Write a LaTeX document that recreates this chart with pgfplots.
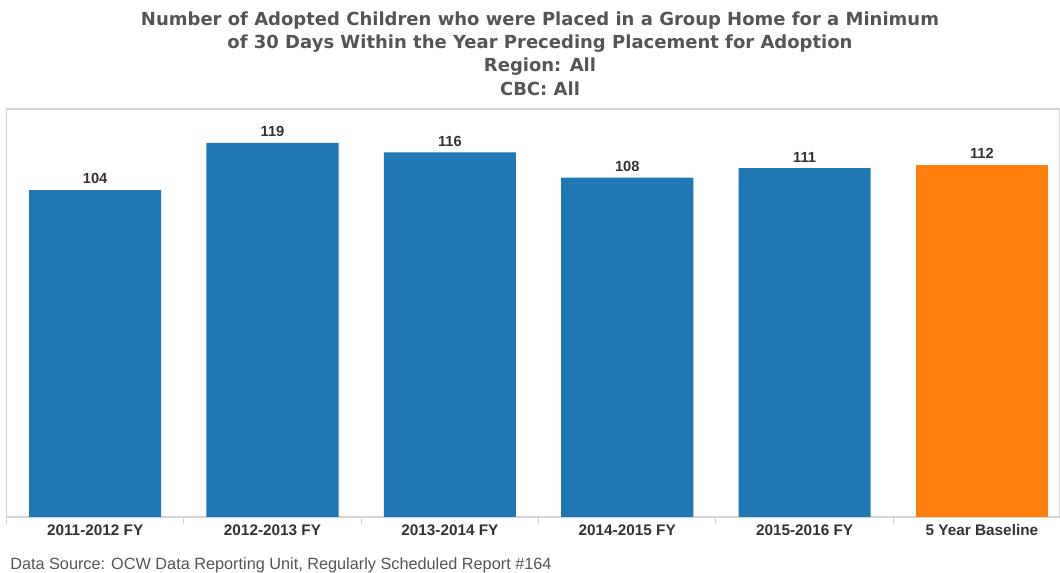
\documentclass[border=0pt]{standalone}
\usepackage{fontspec}
\setmainfont{Liberation Sans}
\newfontfamily\titlefont{DejaVu Sans}
\usepackage{pgfplots}
\pgfplotsset{compat=1.18}
\definecolor{barblue}{HTML}{1F77B4}
\definecolor{barorange}{HTML}{FF7F0E}
\definecolor{framegray}{HTML}{D4D4D4}
\definecolor{titlegray}{HTML}{555555}
\definecolor{labelgray}{HTML}{333333}
\begin{document}
\begin{tikzpicture}[x=0.75pt,y=0.75pt]
\path[use as bounding box] (-6.5,-56) rectangle (1053.5,517);
\begin{axis}[
  at={(0,0)}, anchor=south west,
  scale only axis,
  width=790.1pt, height=306pt,
  xmin=-0.5, xmax=5.44,
  ymin=0, ymax=129.8,
  ybar, bar width=0.745, bar shift=0pt,
  axis line style={framegray, line width=0.8pt},
  ytick=\empty,
  xtick={0,...,5},
  xticklabels={2011-2012 FY,2012-2013 FY,2013-2014 FY,2014-2015 FY,2015-2016 FY,5 Year Baseline},
  x tick label style={font=\bfseries\fontsize{11.5}{12}\selectfont, text=labelgray, yshift=2pt},
  major x tick style={draw=none},
  minor xtick={-0.5,0.5,...,4.5},
  minor x tick style={framegray, line width=0.8pt},
  minor tick length=5pt,
  tick align=outside,
  xtick pos=bottom,
  nodes near coords,
  nodes near coords style={/pgf/number format/assume math mode=true},
  every node near coord/.append style={font=\bfseries\fontsize{11}{12}\selectfont, text=labelgray, yshift=1pt},
  clip=false,
]
\addplot[fill=barblue, draw=none] coordinates {(0,104) (1,119) (2,116) (3,108) (4,111)};
\addplot[fill=barorange, draw=none] coordinates {(5,112)};
\end{axis}
\node[font=\titlefont\bfseries\fontsize{13.5}{17.6}\selectfont, text=titlegray, align=center] at (533.5,463.5)
  {Number of Adopted Children who were Placed in a Group Home for a Minimum\\
   of 30 Days Within the Year Preceding Placement for Adoption\\
   Region: All\\
   CBC: All};
\node[anchor=west, font=\fontsize{12.2}{13}\selectfont, text=titlegray, inner sep=0pt] at (3.5,-48)
  {Data Source: OCW Data Reporting Unit, Regularly Scheduled Report \#164};
\end{tikzpicture}
\end{document}
